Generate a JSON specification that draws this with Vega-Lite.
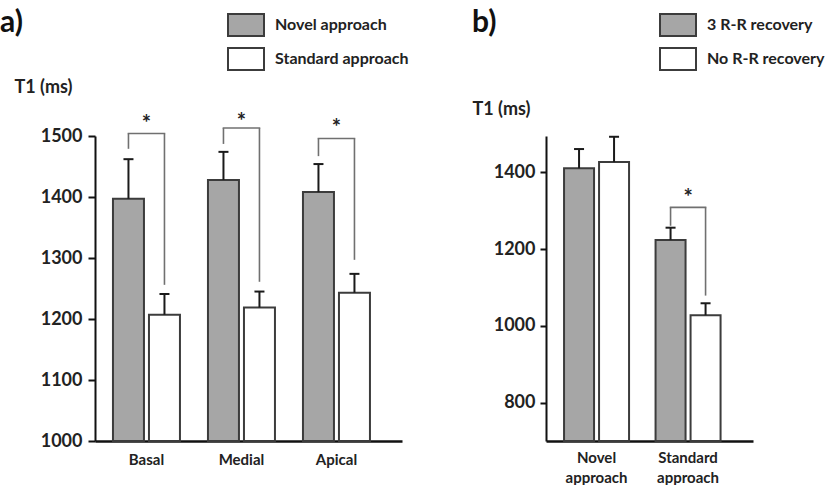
{
  "$schema": "https://vega.github.io/schema/vega-lite/v6.json",
  "autosize": {"type": "pad"},
  "padding": {"left": 0, "top": 6, "right": 0, "bottom": 0},
  "background": "white",
  "config": {
    "view": {"stroke": null},
    "font": "Lato",
    "axis": {
      "labelFont": "Lato",
      "labelFontWeight": "bold",
      "labelColor": "#222222",
      "titleFont": "Lato",
      "titleFontWeight": "bold",
      "titleColor": "#222222",
      "domainColor": "#111111",
      "tickColor": "#111111",
      "grid": false
    },
    "legend": {
      "orient": "none",
      "title": null,
      "padding": 0,
      "symbolType": "M-1,-0.611H1V0.611H-1Z",
      "symbolSize": 1296,
      "symbolStrokeColor": "#3c3c3c",
      "symbolStrokeWidth": 2,
      "symbolOpacity": 1,
      "labelFont": "Lato",
      "labelFontSize": 16,
      "labelFontWeight": "bold",
      "labelColor": "#222222",
      "labelOffset": 10,
      "rowPadding": 0
    },
    "title": {"font": "Lato", "fontWeight": "bold", "fontSize": 30, "color": "#111111", "anchor": "start", "frame": "group"}
  },
  "datasets": {
    "barsA": [
      {"region": "Basal", "approach": "Novel approach", "t1": 1397, "upper": 1462},
      {"region": "Basal", "approach": "Standard approach", "t1": 1207, "upper": 1241},
      {"region": "Medial", "approach": "Novel approach", "t1": 1428, "upper": 1474},
      {"region": "Medial", "approach": "Standard approach", "t1": 1219, "upper": 1245},
      {"region": "Apical", "approach": "Novel approach", "t1": 1408, "upper": 1454},
      {"region": "Apical", "approach": "Standard approach", "t1": 1243, "upper": 1274}
    ],
    "legsA": [
      {"region": "Basal", "approach": "Novel approach", "low": 1479, "high": 1504},
      {"region": "Basal", "approach": "Standard approach", "low": 1256, "high": 1504},
      {"region": "Medial", "approach": "Novel approach", "low": 1487, "high": 1513},
      {"region": "Medial", "approach": "Standard approach", "low": 1261, "high": 1513},
      {"region": "Apical", "approach": "Novel approach", "low": 1467, "high": 1496},
      {"region": "Apical", "approach": "Standard approach", "low": 1297, "high": 1496}
    ],
    "sigA": [
      {"region": "Basal", "top": 1504, "star": 1530},
      {"region": "Medial", "top": 1513, "star": 1533},
      {"region": "Apical", "top": 1496, "star": 1523}
    ],
    "barsB": [
      {"approach": "Novel approach", "recovery": "3 R-R recovery", "t1": 1411, "upper": 1461},
      {"approach": "Novel approach", "recovery": "No R-R recovery", "t1": 1427, "upper": 1493},
      {"approach": "Standard approach", "recovery": "3 R-R recovery", "t1": 1224, "upper": 1256},
      {"approach": "Standard approach", "recovery": "No R-R recovery", "t1": 1028, "upper": 1059}
    ],
    "legsB": [
      {"approach": "Standard approach", "recovery": "3 R-R recovery", "low": 1261, "high": 1309},
      {"approach": "Standard approach", "recovery": "No R-R recovery", "low": 1079, "high": 1309}
    ],
    "sigB": [
      {"approach": "Standard approach", "top": 1309, "star": 1349}
    ]
  },
  "hconcat": [
    {
      "title": {"text": "a)", "offset": 0, "dx": -95, "dy": 32},
      "width": 307,
      "height": 305,
      "encoding": {
        "x": {
          "field": "region", "type": "nominal", "sort": ["Basal", "Medial", "Apical"],
          "scale": {"paddingInner": 0, "paddingOuter": 0.1158, "align": 0.18},
          "axis": {"title": null, "labelAngle": 0, "labelFontSize": 15, "labelPadding": 11, "ticks": false, "domainWidth": 2.5}
        },
        "y": {
          "type": "quantitative",
          "scale": {"domain": [1000, 1500], "nice": false, "zero": false},
          "axis": {
            "values": [1000, 1100, 1200, 1300, 1400, 1500], "format": "d",
            "labelFontSize": 18, "tickSize": 7, "tickWidth": 2, "domainWidth": 2, "labelPadding": 6,
            "title": "T1 (ms)", "titleAngle": 0, "titleAlign": "left", "titleBaseline": "middle",
            "titleX": -81, "titleY": -49, "titleFontSize": 18
          }
        }
      },
      "layer": [
        {
          "data": {"name": "barsA"},
          "mark": {"type": "bar", "stroke": "#3c3c3c", "strokeWidth": 2},
          "encoding": {
            "xOffset": {"field": "approach", "type": "nominal", "scale": {"paddingInner": 0.139, "paddingOuter": 0.389}},
            "y": {"field": "t1", "type": "quantitative"},
            "y2": {"datum": 1000},
            "fill": {
              "field": "approach", "type": "nominal",
              "scale": {"domain": ["Novel approach", "Standard approach"], "range": ["#a6a6a6", "#ffffff"]},
              "legend": {"legendX": 132, "legendY": -130}
            }
          }
        },
        {
          "data": {"name": "barsA"},
          "mark": {"type": "rule", "color": "#1a1a1a", "strokeWidth": 2},
          "encoding": {
            "xOffset": {"field": "approach", "type": "nominal"},
            "y": {"field": "t1", "type": "quantitative"},
            "y2": {"field": "upper"}
          }
        },
        {
          "data": {"name": "barsA"},
          "mark": {"type": "tick", "color": "#1a1a1a", "size": 10, "thickness": 2, "opacity": 1},
          "encoding": {
            "xOffset": {"field": "approach", "type": "nominal"},
            "y": {"field": "upper", "type": "quantitative"}
          }
        },
        {
          "data": {"name": "legsA"},
          "mark": {"type": "rule", "color": "#707070", "strokeWidth": 1.6},
          "encoding": {
            "xOffset": {"field": "approach", "type": "nominal"},
            "y": {"field": "low", "type": "quantitative"},
            "y2": {"field": "high"}
          }
        },
        {
          "data": {"name": "sigA"},
          "mark": {"type": "tick", "color": "#707070", "size": 37.6, "thickness": 1.6, "opacity": 1},
          "encoding": {
            "y": {"field": "top", "type": "quantitative"}
          }
        },
        {
          "data": {"name": "sigA"},
          "mark": {"type": "text", "text": "*", "font": "Lato", "fontWeight": "bold", "fontSize": 22, "color": "#222222", "baseline": "middle", "dy": 6},
          "encoding": {
            "y": {"field": "star", "type": "quantitative"}
          }
        }
      ]
    },
    {
      "title": {"text": "b)", "offset": 0, "dx": -74, "dy": 32},
      "width": 207,
      "height": 305,
      "encoding": {
        "x": {
          "field": "approach", "type": "nominal", "sort": ["Novel approach", "Standard approach"],
          "scale": {"paddingInner": 0, "paddingOuter": 0.131, "align": 0.2},
          "axis": {"title": null, "labelAngle": 0, "labelFontSize": 15, "labelPadding": 9, "ticks": false, "domainWidth": 2.5,
                   "labelExpr": "split(datum.label, ' ')", "labelLineHeight": 20}
        },
        "y": {
          "type": "quantitative",
          "scale": {"domain": [700, 1495], "nice": false, "zero": false},
          "axis": {
            "values": [800, 1000, 1200, 1400], "format": "d",
            "labelFontSize": 18, "tickSize": 6, "tickWidth": 2, "domainWidth": 2, "labelPadding": 5,
            "title": "T1 (ms)", "titleAngle": 0, "titleAlign": "left", "titleBaseline": "middle",
            "titleX": -74, "titleY": -27, "titleFontSize": 18
          }
        }
      },
      "layer": [
        {
          "data": {"name": "barsB"},
          "mark": {"type": "bar", "stroke": "#3c3c3c", "strokeWidth": 2},
          "encoding": {
            "xOffset": {"field": "recovery", "type": "nominal", "scale": {"paddingInner": 0.143, "paddingOuter": 0.3786}},
            "y": {"field": "t1", "type": "quantitative"},
            "y2": {"datum": 700},
            "fill": {
              "field": "recovery", "type": "nominal",
              "scale": {"domain": ["3 R-R recovery", "No R-R recovery"], "range": ["#a6a6a6", "#ffffff"]},
              "legend": {"legendX": 113, "legendY": -130}
            }
          }
        },
        {
          "data": {"name": "barsB"},
          "mark": {"type": "rule", "color": "#1a1a1a", "strokeWidth": 2},
          "encoding": {
            "xOffset": {"field": "recovery", "type": "nominal"},
            "y": {"field": "t1", "type": "quantitative"},
            "y2": {"field": "upper"}
          }
        },
        {
          "data": {"name": "barsB"},
          "mark": {"type": "tick", "color": "#1a1a1a", "size": 10, "thickness": 2, "opacity": 1},
          "encoding": {
            "xOffset": {"field": "recovery", "type": "nominal"},
            "y": {"field": "upper", "type": "quantitative"}
          }
        },
        {
          "data": {"name": "legsB"},
          "mark": {"type": "rule", "color": "#707070", "strokeWidth": 1.6},
          "encoding": {
            "xOffset": {"field": "recovery", "type": "nominal"},
            "y": {"field": "low", "type": "quantitative"},
            "y2": {"field": "high"}
          }
        },
        {
          "data": {"name": "sigB"},
          "mark": {"type": "tick", "color": "#707070", "size": 36.6, "thickness": 1.6, "opacity": 1},
          "encoding": {
            "y": {"field": "top", "type": "quantitative"}
          }
        },
        {
          "data": {"name": "sigB"},
          "mark": {"type": "text", "text": "*", "font": "Lato", "fontWeight": "bold", "fontSize": 22, "color": "#222222", "baseline": "middle", "dy": 6},
          "encoding": {
            "y": {"field": "star", "type": "quantitative"}
          }
        }
      ]
    }
  ],
  "spacing": 144,
  "bounds": "flush",
  "resolve": {"scale": {"fill": "independent", "x": "independent", "y": "independent", "xOffset": "independent"}, "legend": {"fill": "independent"}}
}
